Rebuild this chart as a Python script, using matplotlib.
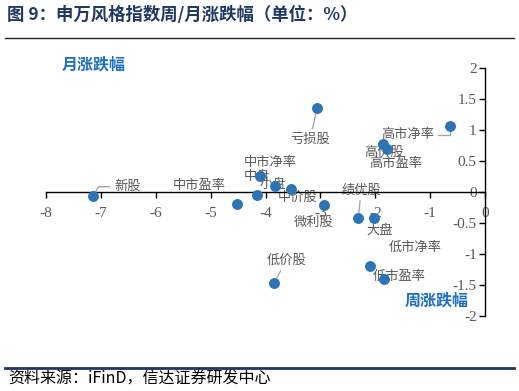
import matplotlib
matplotlib.use("Agg")
import matplotlib.pyplot as plt

plt.rcParams['font.family'] = ['Noto Sans CJK SC', 'DejaVu Sans']

names = ['新股', '亏损股', '高市净率', '高价股', '高市盈率', '中市净率', '小盘', '中价股',
         '中盘', '中市盈率', '微利股', '绩优股', '大盘', '低价股', '低市净率', '低市盈率']
week = [-7.14, -3.06, -0.63, -1.86, -1.79, -4.10, -3.82, -3.53,
        -4.15, -4.52, -2.93, -2.31, -2.02, -3.84, -2.09, -1.84]
month = [-0.06, 1.35, 1.07, 0.78, 0.70, 0.26, 0.10, 0.05,
         -0.05, -0.19, -0.21, -0.42, -0.42, -1.46, -1.19, -1.40]

xticks = [-8, -7, -6, -5, -4, -3, -2, -1, 0]
yticks = [-2, -1.5, -1, -0.5, 0, 0.5, 1, 1.5, 2]

# label offsets in pixels (dx, dy), and leader-line connection style (None = no leader)
offsets = {
    '新股': (34, 9, 'angle,angleA=0,angleB=60,rad=0'), '亏损股': (-7, -31, 'arc3'),
    '高市净率': (-43, -9, 'angle,angleA=0,angleB=90,rad=0'),
    '高价股': (1, -9, None), '高市盈率': (9, -15, None), '中市净率': (10, 13, None),
    '小盘': (-3, 1, None), '中价股': (6, -8, None), '中盘': (0, 19, None),
    '中市盈率': (-38, 18, None), '微利股': (-11, -17, None), '绩优股': (3, 28, 'arc3'),
    '大盘': (6, -12, None), '低价股': (12, 22, 'arc3'), '低市净率': (45, 18, None),
    '低市盈率': (15, 2, None),
}

W, H = 519, 391
fig = plt.figure(figsize=(W / 100, H / 100), dpi=100)
ax = fig.add_axes([46 / W, 1 - 316 / H, (485 - 46) / W, (316 - 68) / H])
ax.set_xlim(-8, 0)
ax.set_ylim(-2, 2)

ax.spines['right'].set_visible(False)
ax.spines['top'].set_visible(False)
ax.spines['left'].set_position(('data', 0))
ax.spines['bottom'].set_position(('data', 0))
for s in ['left', 'bottom']:
    ax.spines[s].set_color('#000000')
    ax.spines[s].set_linewidth(1.0)
ax.set_xticks(xticks)
ax.set_yticks(yticks)
ax.set_xticklabels([f'{v:g}' for v in xticks])
ax.set_yticklabels([f'{v:g}' for v in yticks])
ax.tick_params(direction='out', length=4, width=1, colors='#000000', labelcolor='#595959',
               labelsize=11)
ax.tick_params(axis='x', pad=7)
ax.tick_params(axis='y', pad=2)
for lab in ax.get_xticklabels() + ax.get_yticklabels():
    lab.set_family('Liberation Serif')
ax.patch.set_alpha(0)

ax.scatter(week, month, s=62, color='#2E74B5', zorder=4, linewidths=0)

for n, x, y in zip(names, week, month):
    dx, dy, cs = offsets[n]
    ap = None
    if cs is not None:
        ap = dict(arrowstyle='-', color='#A6A6A6', lw=1, shrinkA=1, shrinkB=4,
                  connectionstyle=cs)
    ax.annotate(n, (x, y), xytext=(dx, dy), textcoords='offset pixels',
                ha='center', va='center', fontsize=9.5, color='#595959', zorder=2,
                arrowprops=ap)

fig.text(94 / W, 1 - 65 / H, '月涨跌幅', ha='center', va='center', fontsize=11.5,
         fontweight='bold', color='#1F70C1')
fig.text(437 / W, 1 - 301 / H, '周涨跌幅', ha='center', va='center', fontsize=11.5,
         fontweight='bold', color='#1F70C1')

fig.text(7 / W, 1 - 15 / H, '图 9：申万风格指数周/月涨跌幅（单位：%）', ha='left', va='center',
         fontsize=12.5, fontweight='bold', color='#1F3864')
fig.add_artist(plt.Line2D([5 / W, 514 / W], [1 - 38 / H, 1 - 38 / H], color='#222222', lw=1))
fig.add_artist(plt.Line2D([5 / W, 514 / W], [1 - 368 / H, 1 - 368 / H], color='#1F3864', lw=2))
fig.text(8 / W, 1 - 379 / H, '资料来源：iFinD，信达证券研发中心', ha='left', va='center',
         fontsize=11.5, color='#000000', style='italic')

fig.savefig('out.png', dpi=100)
